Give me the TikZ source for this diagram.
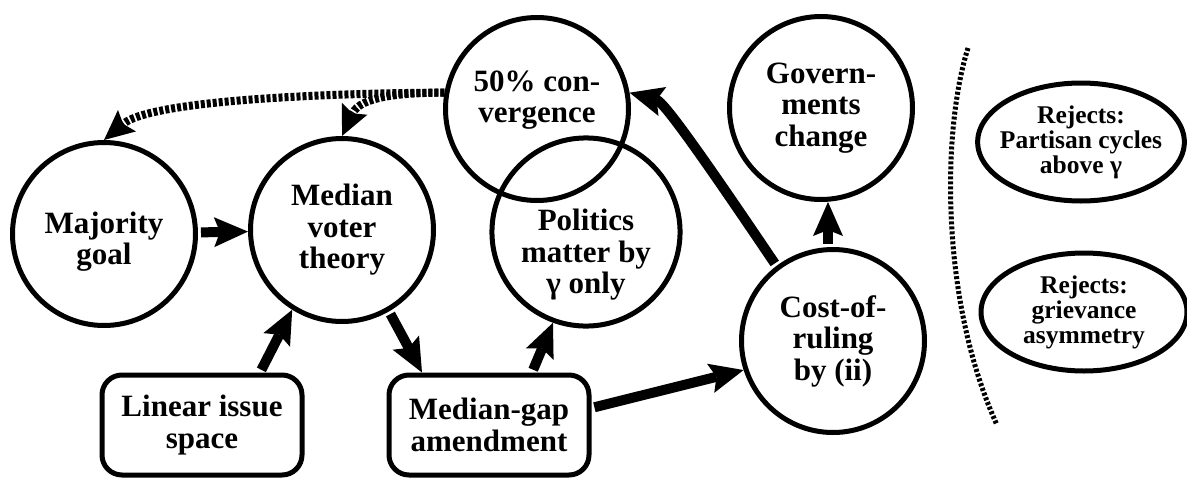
\documentclass[tikz,border=0pt]{standalone}
\usepackage{fontspec}
\setmainfont{Liberation Serif}
\usetikzlibrary{arrows.meta,shapes.geometric}

\begin{document}
\begin{tikzpicture}
[x=1pt,y=-1pt,
  darkArrow/.style={-{Stealth[length=34pt,width=30pt,inset=6pt,line width=0pt]},line width=10pt,shorten <=3pt},%
  dottedArrow/.style={-{Stealth[length=30pt,width=28pt,inset=5pt,line width=0pt]},line width=8pt,dash pattern=on 4pt off 2pt},%
  sepLine/.style={line width=5pt,dash pattern=on 3pt off 2pt},%
  nodeDecorate/.style={shape=circle,draw,line width=5pt,minimum size=183pt,inner sep=0pt,align=center,font=\bfseries\fontsize{31}{31.5}\selectfont},%
  boxDecorate/.style={shape=rectangle,rounded corners=20pt,draw,line width=5pt,minimum width=200pt,minimum height=100pt,inner sep=0pt,align=center,font=\bfseries\fontsize{31}{31.5}\selectfont},%
  rejectDecorate/.style={shape=ellipse,draw,line width=5pt,minimum width=206pt,minimum height=118pt,inner xsep=-8pt,inner ysep=0pt,align=center,font=\bfseries\fontsize{25.5}{25}\selectfont}]
\useasboundingbox (0,0) rectangle (1187,477);
%% circle nodes
\foreach \nodename/\x/\y/\nodetext in {maj/104/234/{\rule{0pt}{37pt}Majority\\goal}, med/342/230/{Median\\voter\\theory},
  conv/537/109/{50\% con-\\vergence\rule[-25pt]{0pt}{0pt}}, pol/586/232/{\rule{0pt}{67pt}Politics\\matter by\\γ only},
  gov/821/108/{Govern-\\ments\\change}, cost/833/341/{Cost-of-\\ruling\\by (ii)}}
{
  \node (\nodename) at (\x,\y) [nodeDecorate] {\nodetext};
}
%% box nodes
\foreach \nodename/\x/\y/\nodetext in {lin/202/425/{Linear issue\\space}, gap/489/425/{Median-gap\\amendment}}
{
  \node (\nodename) at (\x,\y) [boxDecorate] {\nodetext};
}
%% rejected ideas
\foreach \nodename/\x/\y/\nodetext in {rejA/1081/142/{Rejects:\\Partisan cycles\\above γ}, rejB/1084/312/{Rejects:\\grievance\\asymmetry}}
{
  \node (\nodename) at (\x,\y) [rejectDecorate] {\nodetext};
}
%% arrow ends on the boxes
\coordinate (linTop) at ([xshift=58pt]lin.north);
\coordinate (gapTopLeft) at ([xshift=-67pt]gap.north);
\coordinate (gapTopRight) at ([xshift=43pt]gap.north);
\coordinate (gapRight) at ([yshift=17pt]gap.east);
\coordinate (costTop) at ([xshift=-5pt]cost.north);
\coordinate (govBottom) at (costTop |- gov.south);
%% dark edges
\path
\foreach \startnode/\endnode in {maj/med, linTop/med.238, med.300/gapTopLeft, gapTopRight/pol.250, gapRight/cost.198, costTop/govBottom}
{
  (\startnode) edge[darkArrow] node {} (\endnode)
}
(cost.127) edge[darkArrow,out=124,in=-15,out looseness=1.5,in looseness=0.4] node {} (conv.10);
%% dotted edges
\path
\foreach \endnode/\inangle/\loose in {maj.north/40/0.5, med.north/65/1}
{
  (conv.170) edge[dottedArrow,out=180,in=\inangle,looseness=\loose] node {} (\endnode)
};
%% separator
\coordinate (sepTop) at (968,48);
\coordinate (sepBottom) at (997,425);
\draw[sepLine] (sepTop) .. controls (942,130) and (940,300) .. (sepBottom);
\end{tikzpicture}
\end{document}
